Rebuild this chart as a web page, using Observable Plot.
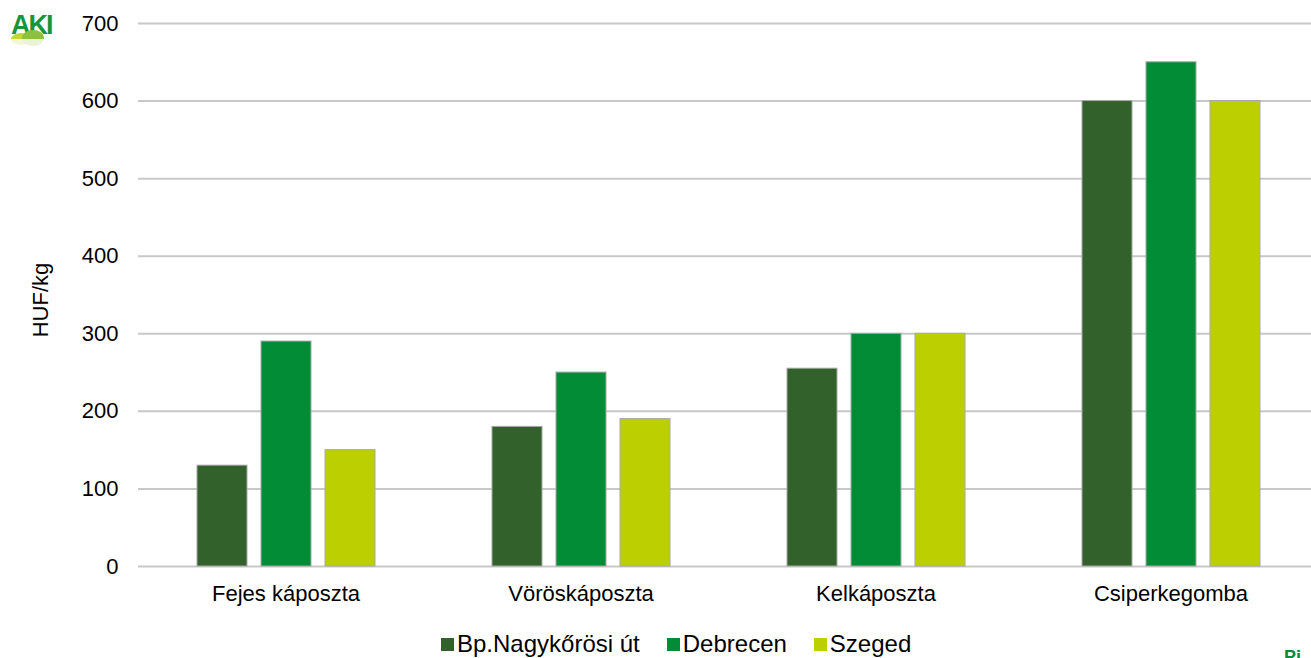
<!DOCTYPE html>
<html><head><meta charset="utf-8">
<script src="https://cdn.jsdelivr.net/npm/d3@7"></script>
<script src="https://cdn.jsdelivr.net/npm/@observablehq/plot@0.6"></script>
<style>
body{margin:0;overflow:hidden;background:#fff;font-family:"Liberation Sans",Arial,sans-serif;width:1311px;height:658px;position:relative}
#chart{position:absolute;left:0;top:0}
#chart svg{max-width:none !important}
#ylab{position:absolute;left:41px;top:300px;transform:translate(-50%,-50%) rotate(-90deg);font-size:22px;color:#000;white-space:nowrap}
#legend{position:absolute;top:631px;left:441px;display:flex;align-items:center;font-size:24px;line-height:26px;color:#000}
#legend .it{display:flex;align-items:center;margin-right:27px}
#legend .sw{width:13px;height:13px;margin-right:3px}
#logo{position:absolute;left:6px;top:6px;width:56px;height:44px}
#br{position:absolute;left:1284px;top:648px;font:bold 18px "Liberation Sans",Arial;color:#0a8a3a;line-height:18px}
</style></head><body>
<div id="chart"></div>
<div id="ylab">HUF/kg</div>
<div id="legend"></div>
<svg id="logo" viewBox="0 0 56 44">
  <text x="5" y="28" font-family="Liberation Sans,Arial" font-weight="bold" font-size="27" letter-spacing="-2" fill="#16963c">AKI</text>
  <ellipse cx="15" cy="33" rx="10" ry="6" fill="#c2d82e"/>
  <ellipse cx="27" cy="32" rx="11" ry="8" fill="#8cc13c"/>
  <rect x="0" y="33" width="56" height="11" fill="#fff" opacity="0.8"/>
</svg>
<div id="br">Pi</div>
<script>
const categories = ["Fejes káposzta", "Vöröskáposzta", "Kelkáposzta", "Csiperkegomba"];
const seriesNames = ["Bp.Nagykőrösi út", "Debrecen", "Szeged"];
const bpValues = [130, 180, 255, 600];
const debrecenValues = [290, 250, 300, 650];
const szegedValues = [150, 190, 300, 600];
const colors = ["#33612c", "#038c36", "#bccf00"];
const yTicks = [0, 100, 200, 300, 400, 500, 600, 700];

const seriesValues = [bpValues, debrecenValues, szegedValues];
const data = [];
categories.forEach((c, i) => seriesNames.forEach((s, j) => data.push({category: c, series: s, value: seriesValues[j][i]})));

const chart = Plot.plot({
  width: 1320, height: 620,
  marginLeft: 137, marginRight: 2, marginTop: 23, marginBottom: 54,
  style: {fontFamily: "'Liberation Sans', Arial, sans-serif", fontSize: "22px", color: "#000", background: "transparent", maxWidth: "none"},
  fx: {domain: categories, padding: 0, axis: "bottom", label: null, tickSize: 0, tickPadding: 19},
  x: {domain: seriesNames, paddingInner: 0.22, paddingOuter: 0.89, axis: null},
  y: {domain: [0, 700], ticks: yTicks, tickSize: 0, tickPadding: 20, label: null},
  color: {domain: seriesNames, range: colors},
  marks: [
    Plot.ruleY(yTicks, {stroke: "#c8c8c8", strokeWidth: 2}),
    Plot.barY(data, {fx: "category", x: "series", y: "value", fill: "series", stroke: "#a8a8a8", strokeWidth: 1})
  ]
});
document.getElementById("chart").appendChild(chart);

const leg = document.getElementById("legend");
seriesNames.forEach((s, i) => {
  const it = document.createElement("div"); it.className = "it";
  const sw = document.createElement("div"); sw.className = "sw"; sw.style.background = colors[i];
  const t = document.createElement("span"); t.textContent = s;
  it.appendChild(sw); it.appendChild(t); leg.appendChild(it);
});
</script>
</body></html>
